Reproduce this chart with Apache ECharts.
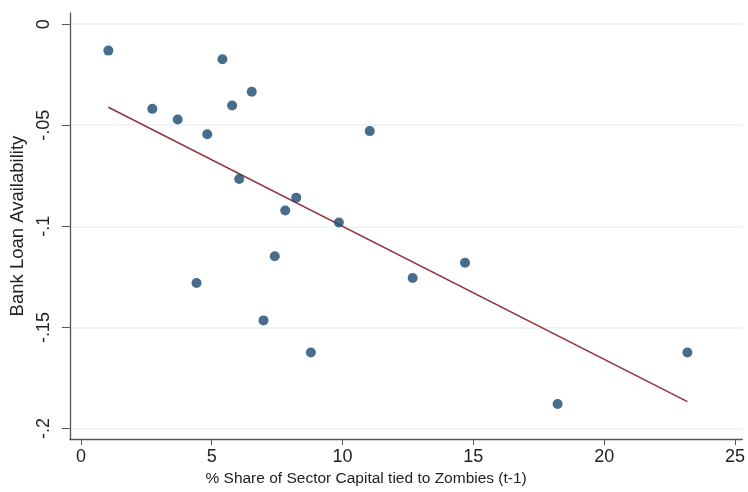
<!DOCTYPE html>
<html>
<head>
<meta charset="utf-8">
<script src="https://cdn.jsdelivr.net/npm/echarts@6/dist/echarts.min.js"></script>
<style>html,body{margin:0;padding:0;background:#fff;}#c{width:748px;height:492px;}</style>
</head>
<body>
<div id="c"></div>
<script>
var shareX = [1.05, 2.73, 3.70, 4.83, 5.41, 5.78, 6.53, 6.05, 8.23, 7.81, 9.86, 11.04, 4.42, 7.41, 6.98, 8.79, 12.68, 14.68, 18.22, 23.18];
var loanY = [-0.0131, -0.0419, -0.0472, -0.0545, -0.0174, -0.0402, -0.0334, -0.0766, -0.0858, -0.0922, -0.0981, -0.0529, -0.1280, -0.1148, -0.1465, -0.1624, -0.1255, -0.1180, -0.1878, -0.1624];
var fitX = [1.05, 23.18];
var fitY = [-0.0411, -0.1867];
var xTicks = [0, 5, 10, 15, 20, 25];
var xTickLabels = ['0', '5', '10', '15', '20', '25'];
var yTicks = [0, -0.05, -0.1, -0.15, -0.2];
var yTickLabels = ['0', '-.05', '-.1', '-.15', '-.2'];

function lab(ticks, labels) {
  return function (v) {
    for (var i = 0; i < ticks.length; i++) if (Math.abs(ticks[i] - v) < 1e-6) return labels[i];
    return '';
  };
}
var pts = shareX.map(function (x, i) { return [x, loanY[i]]; });
var fit = fitX.map(function (x, i) { return [x, fitY[i]]; });
var font = 'Liberation Sans, Arial, sans-serif';
var chart = echarts.init(document.getElementById('c'), null, {renderer: 'canvas'});
chart.setOption({
  animation: false,
  backgroundColor: '#ffffff',
  grid: {left: 68, right: 3, top: 13, bottom: 46, containLabel: false},
  xAxis: {
    type: 'value', min: -0.42, max: 25.28,
    name: '% Share of Sector Capital tied to Zombies (t-1)',
    nameLocation: 'middle', nameGap: 23,
    nameTextStyle: {fontFamily: font, fontSize: 15.5, color: '#222', padding: [0, 80, 0, 0]},
    axisLine: {show: true, onZero: false, lineStyle: {color: '#555', width: 1.3}},
    axisTick: {show: true, length: 6, customValues: xTicks, lineStyle: {color: '#555'}},
    axisLabel: {customValues: xTicks, formatter: lab(xTicks, xTickLabels), fontFamily: font, fontSize: 18, color: '#222', margin: 9},
    splitLine: {show: false}
  },
  yAxis: {
    type: 'value', min: -0.2052, max: 0.0055,
    name: 'Bank Loan Availability',
    nameLocation: 'middle', nameGap: 38, nameRotate: 90,
    nameTextStyle: {fontFamily: font, fontSize: 18.5, color: '#222'},
    axisLine: {show: true, onZero: false, lineStyle: {color: '#555', width: 1.3}},
    axisTick: {show: true, length: 8, customValues: yTicks, lineStyle: {color: '#555'}},
    axisLabel: {customValues: yTicks, formatter: lab(yTicks, yTickLabels), rotate: 90, fontFamily: font, fontSize: 18, color: '#222', margin: 17},
    splitLine: {show: true, lineStyle: {color: '#eaf2f3', width: 1.5}}
  },
  series: [
    {
      type: 'scatter', data: pts, symbol: 'circle', symbolSize: 10,
      itemStyle: {color: '#1a476f'}, z: 3
    },
    {
      type: 'line', data: fit, showSymbol: false, symbol: 'none',
      lineStyle: {color: '#90353b', width: 1.5}, z: 2
    }
  ]
});
</script>
</body>
</html>
